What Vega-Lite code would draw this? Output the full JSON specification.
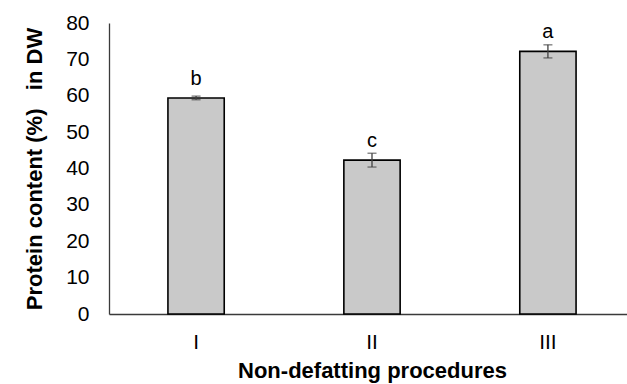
{
  "$schema": "https://vega.github.io/schema/vega-lite/v6.json",
  "autosize": {"type": "none"},
  "padding": {"left": 109, "top": 23, "right": 0, "bottom": 70},
  "width": 526,
  "height": 291,
  "background": "white",
  "config": {
    "view": {"stroke": null},
    "font": "Liberation Sans"
  },
  "data": {
    "values": [
      {"proc": "I", "value": 59.4, "lo": 58.9, "hi": 59.9, "letter": "b"},
      {"proc": "II", "value": 42.3, "lo": 40.4, "hi": 44.2, "letter": "c"},
      {"proc": "III", "value": 72.2, "lo": 70.4, "hi": 74.0, "letter": "a"}
    ]
  },
  "resolve": {"axis": {"y": "independent"}},
  "encoding": {
    "x": {
      "field": "proc", "type": "nominal", "sort": null,
      "scale": {"paddingInner": 0.68, "paddingOuter": 0.335},
      "axis": {
        "title": "Non-defatting procedures",
        "titleFont": "Liberation Sans", "titleFontSize": 22, "titleFontWeight": "bold", "titleColor": "black",
        "titlePadding": 8,
        "labelAngle": 0, "labelFontSize": 21, "labelColor": "black", "labelPadding": 17,
        "labelFont": "Liberation Sans",
        "ticks": false, "domainColor": "#3a3a3a", "domainWidth": 1.3
      }
    }
  },
  "layer": [
    {
      "mark": {"type": "bar", "fill": "#c9c9c9", "stroke": "black", "strokeWidth": 1.6},
      "encoding": {
        "y": {
          "field": "value", "type": "quantitative",
          "scale": {"domain": [0, 80]},
          "axis": {
            "title": "Protein content (%)\u00a0\u00a0 in DW",
            "titleFont": "Liberation Sans", "titleFontSize": 22, "titleFontWeight": "bold", "titleColor": "black",
            "titlePadding": 19,
            "values": [0, 10, 20, 30, 40, 50, 60, 70, 80],
            "labelOverlap": false,
            "labelFont": "Liberation Sans",
            "labelFontSize": 21, "labelColor": "black", "labelPadding": 20,
            "ticks": false, "grid": false, "domainColor": "#3a3a3a", "domainWidth": 1.3
          }
        }
      }
    },
    {
      "mark": {"type": "rule", "color": "#404040", "strokeWidth": 1.3},
      "encoding": {"y": {"field": "lo", "type": "quantitative", "axis": null}, "y2": {"field": "hi"}}
    },
    {
      "mark": {"type": "tick", "color": "#404040", "size": 9, "thickness": 1.3},
      "encoding": {"y": {"field": "hi", "type": "quantitative", "axis": null}}
    },
    {
      "mark": {"type": "tick", "color": "#404040", "size": 9, "thickness": 1.3},
      "encoding": {"y": {"field": "lo", "type": "quantitative", "axis": null}}
    },
    {
      "mark": {"type": "text", "fontSize": 20, "color": "black", "baseline": "alphabetic", "dy": -13, "font": "Liberation Sans"},
      "encoding": {"y": {"field": "value", "type": "quantitative", "axis": null}, "text": {"field": "letter"}}
    }
  ]
}
